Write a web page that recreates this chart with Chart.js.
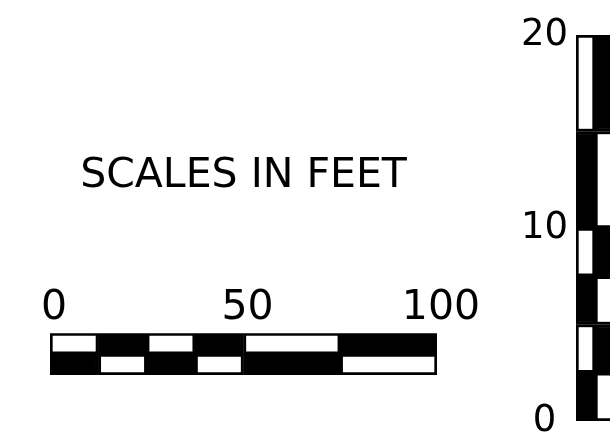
<!DOCTYPE html>
<html>
<head>
<meta charset="utf-8">
<script src="https://cdn.jsdelivr.net/npm/chart.js@4.4.0/dist/chart.umd.min.js"></script>
<style>
  html, body { margin: 0; padding: 0; background: #fff; }
  body { width: 610px; height: 438px; overflow: hidden; position: relative; }
  #hScale { position: absolute; left: 0; top: 0; }
  #vScale { position: absolute; left: 500px; top: 0; }
</style>
</head>
<body>
<canvas id="hScale" width="495" height="438"></canvas>
<canvas id="vScale" width="120" height="480"></canvas>
<script>
// horizontal scale: feet per block, left to right
const hSteps = [12.5, 12.5, 12.5, 12.5, 25, 25];
const hTicks = [0, 50, 100];
const hRows = ['upper', 'lower'];

// vertical scale: feet per block, bottom to top
const vSteps = [2.5, 2.5, 2.5, 2.5, 5, 5];
const vTicks = [0, 10, 20];
const vCols = ['left', 'right'];

const titleText = 'SCALES IN FEET';

// block i in row/col j is black when (i + j + start) is odd
function shade(i, j, start) {
    return (i + j + start) % 2 === 1 ? '#000' : '#fff';
}

Chart.defaults.color = '#000';
Chart.defaults.font.family = '"DejaVu Sans", sans-serif';

function blockSets(steps, start) {
    return steps.map((s, i) => ({
        data: [s, s],
        backgroundColor: [shade(i, 0, start), shade(i, 1, start)],
        borderColor: '#000',
        borderWidth: 3,
        borderSkipped: false,
        barPercentage: 1,
        categoryPercentage: 1
    }));
}

new Chart(document.getElementById('hScale'), {
    type: 'bar',
    data: { labels: hRows, datasets: blockSets(hSteps, 0) },
    options: {
        indexAxis: 'y',
        responsive: false,
        animation: false,
        devicePixelRatio: 1,
        layout: { padding: { left: 50, right: 58, top: 0, bottom: 63 } },
        plugins: {
            legend: { display: false },
            tooltip: { enabled: false },
            title: {
                display: true,
                text: titleText,
                color: '#000',
                font: { size: 41, weight: 'normal' },
                padding: { top: 152, bottom: 72 }
            }
        },
        scales: {
            x: {
                type: 'linear',
                position: 'top',
                stacked: true,
                min: 0,
                max: 100,
                grid: { display: false, drawTicks: false },
                border: { display: false },
                afterBuildTicks: s => { s.ticks = hTicks.map(v => ({ value: v })); },
                afterFit: s => { s.height = 60; },
                ticks: { font: { size: 41 }, padding: 0, labelOffset: 4, maxRotation: 0 }
            },
            y: { display: false, stacked: true }
        }
    }
});

new Chart(document.getElementById('vScale'), {
    type: 'bar',
    data: { labels: vCols, datasets: blockSets(vSteps, 1) },
    options: {
        responsive: false,
        animation: false,
        devicePixelRatio: 1,
        layout: { padding: { left: 0, right: 6, top: 35, bottom: 59 } },
        plugins: {
            legend: { display: false },
            tooltip: { enabled: false }
        },
        scales: {
            x: { display: false, stacked: true },
            y: {
                type: 'linear',
                stacked: true,
                min: 0,
                max: 20,
                grid: { display: false, drawTicks: false },
                border: { display: false },
                afterBuildTicks: s => { s.ticks = vTicks.map(v => ({ value: v })); },
                afterFit: s => { s.width = 76; },
                ticks: { font: { size: 37 }, padding: 8, crossAlign: 'center' }
            }
        }
    }
});
</script>
</body>
</html>
